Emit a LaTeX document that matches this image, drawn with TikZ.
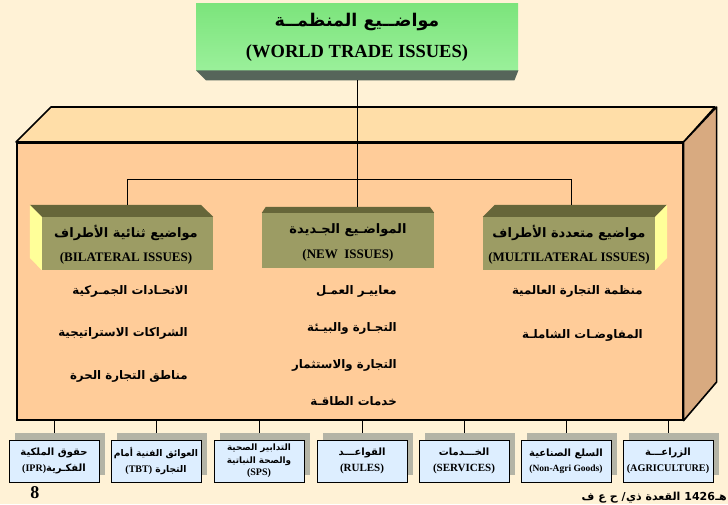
\documentclass[tikz,border=0pt]{standalone}
\usepackage{fontspec}
\setmainfont{Liberation Serif}
\newfontfamily\arabicfont[Script=Arabic]{DejaVu Sans}
\TeXXeTstate=1
\usetikzlibrary{shadows}
\newcommand\artxt[1]{{\arabicfont\bfseries\beginR #1\endR}}
\newcommand\lttxt[1]{{\rmfamily\bfseries\beginL #1\endL}}
\definecolor{bg}{HTML}{FFF2D6}
\definecolor{bigfront}{HTML}{FFCC99}
\definecolor{bigtop}{HTML}{FFDEA8}
\definecolor{bigside}{HTML}{D8AA80}
\definecolor{olivefront}{HTML}{9C9C64}
\definecolor{olivetop}{HTML}{66663A}
\definecolor{oliveside}{HTML}{FFFF99}
\definecolor{boxblue}{HTML}{DDEEFF}
\definecolor{shgray}{HTML}{B4B4A6}
\definecolor{bevel}{HTML}{56655A}
\tikzset{
  bbox/.style={draw=black, line width=0.9pt, fill=boxblue, minimum width=90pt, minimum height=42pt,
    inner sep=0pt, align=center, font=\fontsize{10}{15.5}\selectfont,
    general shadow={fill=shgray, shadow xshift=6pt, shadow yshift=7pt}},
  olive/.style={fill=olivefront, minimum height=53pt, inner sep=0pt},
  ttl/.style={font=\fontsize{13}{15}\selectfont},
  ttlen/.style={font=\fontsize{13}{15}\selectfont},
  item/.style={anchor=east, font=\fontsize{11.8}{13}\selectfont, inner sep=0pt},
  conn/.style={draw=black, line width=0.8pt},
  foot/.style={anchor=base east, inner sep=0pt, font=\fontsize{11}{13}\selectfont\arabicfont\bfseries},
}
\begin{document}
\begin{tikzpicture}[x=1pt,y=-1pt]
\fill[bg] (0,0) rectangle (728,504);
\useasboundingbox (0,0) rectangle (728,504);

% big box
\node[draw=black, line width=1.6pt, fill=bigfront, minimum width=666pt, minimum height=277pt,
  anchor=north west, inner sep=0pt] (big) at (16,142) {};
\filldraw[fill=bigtop, line width=1.6pt, line join=round] (big.north west) -- ++(35,-35) -- ++(664,0) -- (big.north east) -- cycle;
\filldraw[fill=bigside, line width=1.6pt, line join=round] (big.north east) -- ++(33,-35) -- ++(0,275) -- (big.south east) -- cycle;

% olive boxes
\node[olive, minimum width=171pt] (bil) at (127.5,243.5) {};
\node[olive, minimum width=172pt, minimum height=55pt] (new) at (348,240.5) {};
\node[olive, minimum width=172pt] (mul) at (569,243.5) {};
\fill[olivetop] (bil.north west) -- ++(-12,-12) -- ++(171,0) -- (bil.north east) -- cycle;
\fill[oliveside] (bil.north west) -- ++(-12,-12) -- ++(0,53) -- (bil.south west) -- cycle;
\fill[olivetop] (new.north west) -- ++(4,-6) -- ++(164,0) -- (new.north east) -- cycle;
\fill[olivetop] (mul.north west) -- ++(12,-12) -- ++(172,0) -- (mul.north east) -- cycle;
\fill[oliveside] (mul.north east) -- ++(12,-12) -- ++(0,53) -- (mul.south east) -- cycle;

\coordinate (bilT) at (127.5,205);
\coordinate (newT) at (348,207);
\coordinate (mulT) at (571,205);
\coordinate (hub) at (357,179);

% green top box
\node[minimum width=322pt, minimum height=67pt, anchor=north west, inner sep=0pt,
  top color={rgb,255:red,124;green,228;blue,124}, middle color={rgb,255:red,46;green,210;blue,46},
  bottom color={rgb,255:red,154;green,240;blue,154}] (wt) at (196,3) {};
\fill[bevel] (wt.south west) -- (wt.south east) -- ++(-4,10) -- ([xshift=10pt,yshift=-10pt]wt.south west) -- cycle;

% connectors
\draw[conn] ([yshift=-10pt]wt.south -| hub) -- (hub);
\draw[conn] (bilT) -- (bilT |- hub) -- (mulT |- hub) -- (mulT);
\draw[conn] (hub) -- (hub |- newT);

% titles
\node[font=\fontsize{17.5}{19}\selectfont] (wtar) at (357,22) {\artxt{مواضــيع المنظمــة}};
\node[font=\fontsize{18.5}{20}\selectfont] (wten) at (357,53) {\lttxt{(WORLD TRADE ISSUES)}};

\node[ttl] (bilar) at (126,233) {\artxt{مواضيع ثنائية الأطراف}};
\node[ttlen] (bilen) at (126,258) {\lttxt{(BILATERAL ISSUES)}};
\node[ttl] (newar) at (348,230) {\artxt{المواضـيع الجـديدة}};
\node[ttlen] (newen) at (348,255) {\lttxt{(NEW\ \ ISSUES)}};
\node[ttl] (mular) at (569,233) {\artxt{مواضيع متعددة الأطراف}};
\node[ttlen] (mulen) at (569,258) {\lttxt{(MULTILATERAL ISSUES)}};

% items
\node[item] (b1) at (188,291) {\artxt{الاتحـادات الجمـركية}};
\node[item] (b2) at (188,333) {\artxt{الشراكات الاستراتيجية}};
\node[item] (b3) at (188,376) {\artxt{مناطق التجارة الحرة}};
\node[item] (n1) at (397,291) {\artxt{معاييـر العمـل}};
\node[item] (n2) at (397,328) {\artxt{التجـارة والبيـئة}};
\node[item] (n3) at (397,365) {\artxt{التجارة والاستثمار}};
\node[item] (n4) at (397,401) {\artxt{خدمات الطاقـة}};
\node[item] (m1) at (643,291) {\artxt{منظمة التجارة العالمية}};
\node[item] (m2) at (643,335) {\artxt{المفاوضـات الشاملـة}};

% bottom boxes
\node[bbox] (bb1) at (54,461) {\artxt{حقوق الملكية}\\\artxt{الفكـرية{\fontsize{10}{15}\selectfont\lttxt{(IPR)}}}};
\node[bbox, font=\fontsize{9.2}{15.5}\selectfont] (bb2) at (156,461) {\artxt{العوائق الفنية أمام}\\\artxt{التجارة {\fontsize{10}{15}\selectfont\lttxt{(TBT)}}}};
\node[bbox, font=\fontsize{8.8}{12.5}\selectfont] (bb3) at (259,461) {\artxt{التدابير الصحية}\\\artxt{والصحة النباتية}\\{\fontsize{10}{12.5}\selectfont\lttxt{(SPS)}}};
\node[bbox] (bb4) at (362,461) {\artxt{القواعـــد}\\{\fontsize{11}{15.5}\selectfont\lttxt{(RULES)}}};
\node[bbox] (bb5) at (464,461) {\artxt{الخـــدمات}\\{\fontsize{11}{15.5}\selectfont\lttxt{(SERVICES)}}};
\node[bbox] (bb6) at (566,461) {\artxt{السلع الصناعية}\\{\fontsize{9.5}{15.5}\selectfont\lttxt{(Non-Agri Goods)}}};
\node[bbox] (bb7) at (668,461) {\artxt{الزراعـــة}\\{\fontsize{10.2}{15.5}\selectfont\lttxt{(AGRICULTURE)}}};

\foreach \b in {bb1,bb2,bb3,bb4,bb5,bb6,bb7}
  \draw[conn] (big.south -| \b.north) -- ([yshift=7pt]\b.north);

% footer
\node[font=\fontsize{18}{20}\selectfont\bfseries] (pg) at (35,493) {8};
\node[foot] (f1) at (727,500) {\artxt{هـ}};
\node[foot] (f2) at (f1.base west) {1426};
\node[foot] (f3) at ([xshift=-3.5pt]f2.base west) {\artxt{القعدة}};
\node[foot] (f4) at ([xshift=-3.5pt]f3.base west) {\artxt{ذي}};
\node[foot] (f5) at (f4.base west) {/};
\node[foot] (f6) at ([xshift=-3.5pt]f5.base west) {\artxt{ح}};
\node[foot] (f7) at ([xshift=-3.5pt]f6.base west) {\artxt{ع}};
\node[foot] (f8) at ([xshift=-3.5pt]f7.base west) {\artxt{ف}};
\end{tikzpicture}
\end{document}
